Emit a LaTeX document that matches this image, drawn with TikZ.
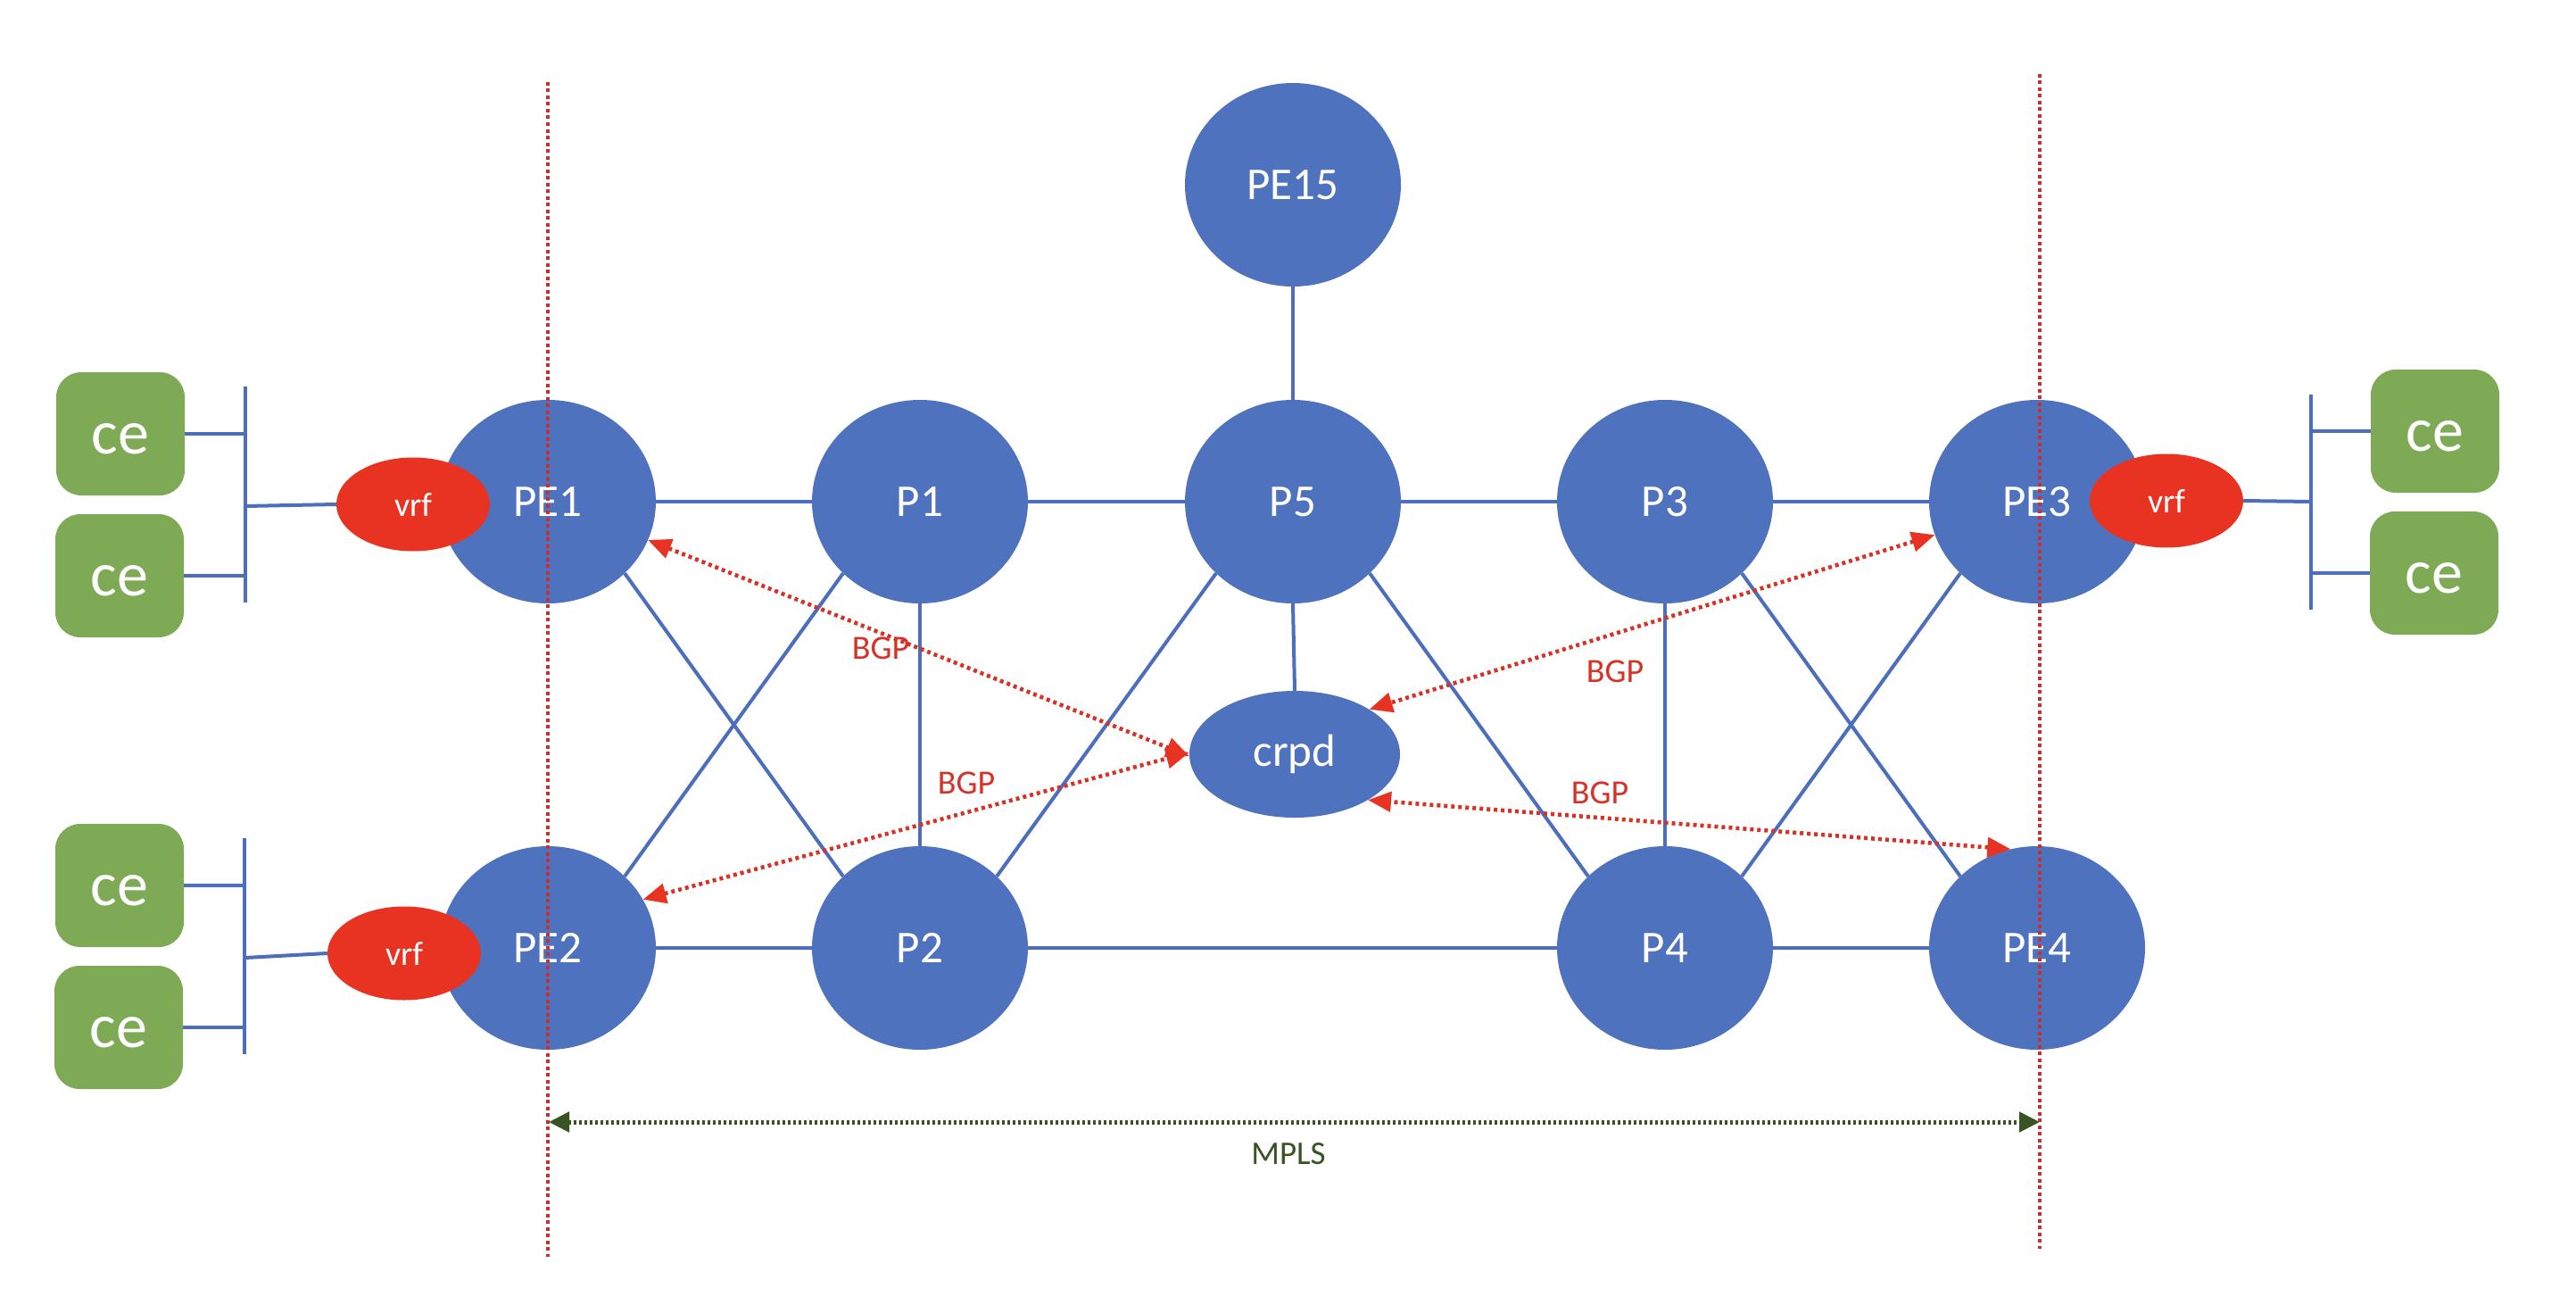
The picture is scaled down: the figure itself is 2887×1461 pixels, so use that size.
\documentclass[tikz,border=0pt]{standalone}
\usepackage{fontspec}
\setmainfont{Carlito}
\usetikzlibrary{shapes.geometric,arrows.meta,backgrounds}
\definecolor{nodeblue}{RGB}{79,114,190}
\definecolor{linkblue}{RGB}{76,110,188}
\definecolor{cegreen}{RGB}{127,170,85}
\definecolor{vrfred}{RGB}{232,50,34}
\definecolor{bgpred}{RGB}{214,50,40}
\definecolor{vlred}{RGB}{200,48,48}
\definecolor{mplsgreen}{RGB}{56,84,35}
\tikzset{
  router/.style={ellipse, fill=nodeblue, minimum width=242pt, minimum height=228pt,
    inner sep=0pt, text=white, font=\fontsize{51}{60}\selectfont},
  crpdnode/.style={ellipse, fill=nodeblue, minimum width=236pt, minimum height=142pt,
    inner sep=0pt, text=white, font=\fontsize{51}{60}\selectfont},
  vrfnode/.style={ellipse, fill=vrfred, minimum width=172pt, minimum height=105pt,
    inner sep=0pt, text=white, font=\fontsize{38}{46}\selectfont},
  cebox/.style={rectangle, rounded corners=28pt, fill=cegreen, minimum width=144pt,
    minimum height=138pt, inner sep=0pt, text=white, font=\fontsize{70}{80}\selectfont,
    text height=45pt, text depth=0pt},
  link/.style={draw=linkblue, line width=4pt},
  bgp/.style={draw=bgpred, line width=4.5pt, dash pattern=on 4pt off 4pt,
    {Triangle[length=26pt,width=22pt,color=vrfred]}-{Triangle[length=26pt,width=22pt,color=vrfred]}},
  bgplabel/.style={text=bgpred, font=\fontsize{38}{44}\selectfont, inner sep=0pt},
  vline/.style={draw=vlred, line width=3.5pt, dash pattern=on 4pt off 3.5pt},
  mpls/.style={draw=mplsgreen, line width=5pt, dash pattern=on 3pt off 3pt,
    {Triangle[length=23pt,width=22pt]}-{Triangle[length=23pt,width=22pt]}},
  mplslabel/.style={text=mplsgreen, font=\fontsize{37}{44}\selectfont, inner sep=0pt}
}
\begin{document}
\begin{tikzpicture}[x=1pt,y=-1pt]
\useasboundingbox (0,0) rectangle (2887,1461);

% routers
\node[router] (PE15) at (1449,207) {PE15};
\node[router] (PE1) at (614,562) {PE1};
\node[router] (P1) at (1031,562) {P1};
\node[router] (P5) at (1449,562) {P5};
\node[router] (P3) at (1866,562) {P3};
\node[router] (PE3) at (2283,562) {PE3};
\node[crpdnode] (crpd) at (1451,845) {crpd};
\node[router] (PE2) at (614,1062) {PE2};
\node[router] (P2) at (1031,1062) {P2};
\node[router] (P4) at (1866,1062) {P4};
\node[router] (PE4) at (2283,1062) {PE4};

% vrfs
\node[vrfnode] (vrf1) at (463,565) {vrf};
\node[vrfnode] (vrf2) at (453,1068) {vrf};
\node[vrfnode] (vrf3) at (2428,561) {vrf};

% ce boxes
\node[cebox] (ce1) at (135,486) {ce};
\node[cebox] (ce2) at (134,645) {ce};
\node[cebox] (ce3) at (134,992) {ce};
\node[cebox] (ce4) at (133,1151) {ce};
\node[cebox] (ce5) at (2729,483) {ce};
\node[cebox] (ce6) at (2728,642) {ce};

% bus coordinates
\coordinate (b1t) at (275,433);
\coordinate (b1b) at (275,675);
\coordinate (b1v) at (275,567);
\coordinate (b2t) at (274,939);
\coordinate (b2b) at (274,1181);
\coordinate (b2v) at (274,1073);
\coordinate (b3t) at (2590,442);
\coordinate (b3b) at (2590,683);
\coordinate (b3v) at (2590,562);

\begin{pgfonlayer}{background}
  \fill[white] (0,0) rectangle (2887,1461);
  % buses
  \draw[link] (b1t) -- (b1b);
  \draw[link] (b2t) -- (b2b);
  \draw[link] (b3t) -- (b3b);
  \draw[link] (ce1.east) -- (ce1.east -| b1t);
  \draw[link] (ce2.east) -- (ce2.east -| b1t);
  \draw[link] (ce3.east) -- (ce3.east -| b2t);
  \draw[link] (ce4.east) -- (ce4.east -| b2t);
  \draw[link] (ce5.west) -- (ce5.west -| b3t);
  \draw[link] (ce6.west) -- (ce6.west -| b3t);
  \draw[link] (b1v) -- (vrf1.west);
  \draw[link] (b2v) -- (vrf2.west);
  \draw[link] (vrf3.east) -- (b3v);
  % core links
  \draw[link] (PE1.east) -- (P1.west);
  \draw[link] (P1.east) -- (P5.west);
  \draw[link] (P5.east) -- (P3.west);
  \draw[link] (P3.east) -- (PE3.west);
  \draw[link] (PE2.east) -- (P2.west);
  \draw[link] (P2.east) -- (P4.west);
  \draw[link] (P4.east) -- (PE4.west);
  \draw[link] (PE15.south) -- (P5.north);
  \draw[link] (P5.south) -- (crpd.north);
  \draw[link] (P1.south) -- (P2.north);
  \draw[link] (P3.south) -- (P4.north);
  \draw[link] (PE1.-43) -- (P2.137);
  \draw[link] (P1.223) -- (PE2.43);
  \draw[link] (P5.223) -- (P2.43);
  \draw[link] (P5.-43) -- (P4.137);
  \draw[link] (P3.-43) -- (PE4.137);
  \draw[link] (PE3.223) -- (P4.43);
\end{pgfonlayer}

% BGP sessions
\draw[bgp] (PE1.-21) -- (crpd.181);
\draw[bgp] (PE2.27) -- (crpd.179);
\draw[bgp] (PE3.198) -- (crpd.31);
\draw[bgp] (PE4.105) -- (crpd.-32);
\node[bgplabel] (bgp1) at (987,726) {BGP};
\node[bgplabel] (bgp2) at (1083,877) {BGP};
\node[bgplabel] (bgp3) at (1810,752) {BGP};
\node[bgplabel] (bgp4) at (1793,888) {BGP};

% MPLS boundary lines
\coordinate (vtl) at (614,92);
\coordinate (vbl) at (614,1408);
\coordinate (vtr) at (2286,83);
\coordinate (vbr) at (2286,1399);
\draw[vline] (vtl) -- (vbl);
\draw[vline] (vtr) -- (vbr);

% MPLS span
\coordinate (mL) at (615,1257);
\coordinate (mR) at (2286,1257);
\draw[mpls] (mL) -- (mR);
\node[mplslabel] (mplstext) at (1444,1293) {MPLS};
\end{tikzpicture}
\end{document}
